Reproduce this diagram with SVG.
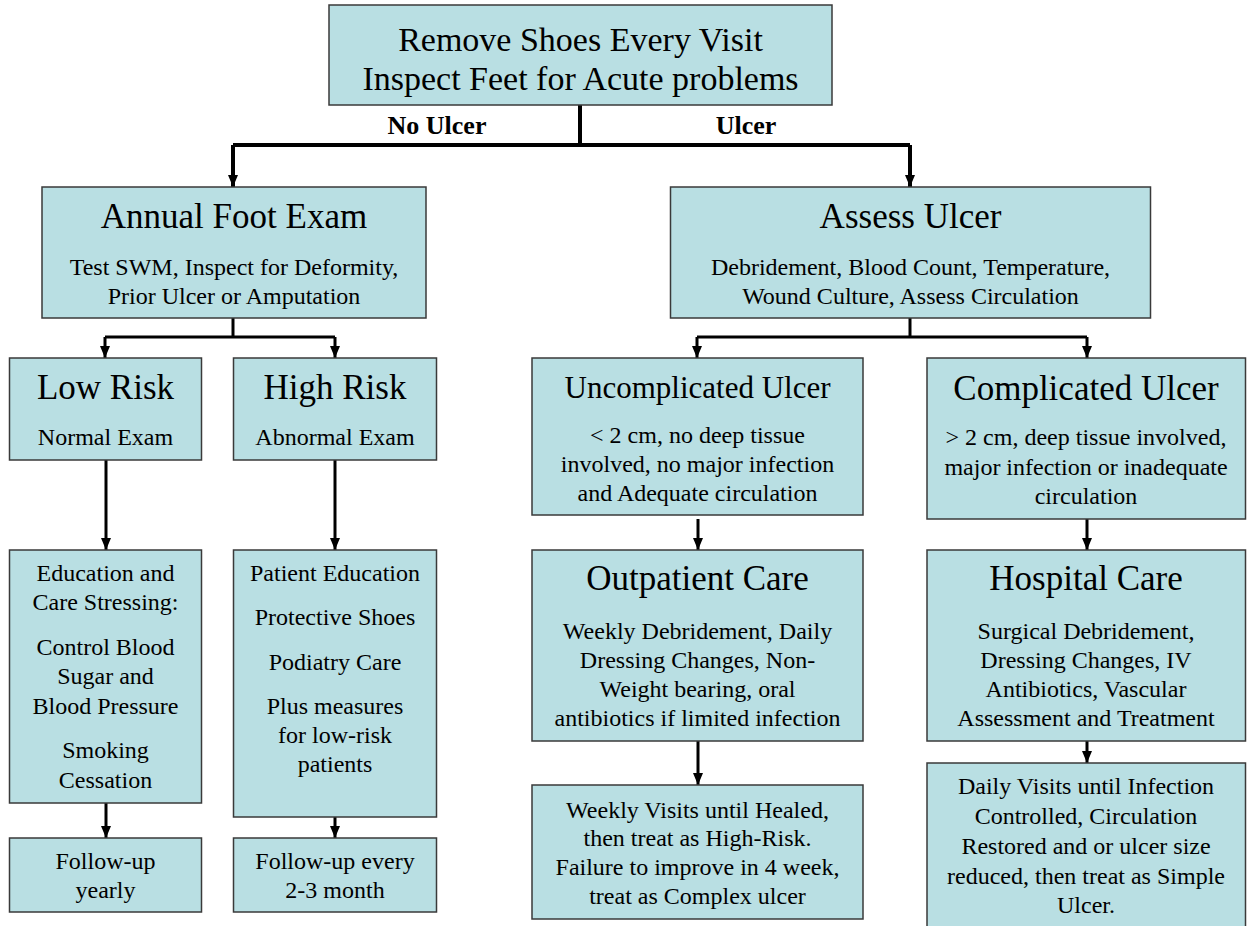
<svg xmlns="http://www.w3.org/2000/svg" width="1247" height="926" viewBox="0 0 1247 926">
<style>
.box{fill:#B9DFE3;stroke:#3a3a3a;stroke-width:1.5}
text{font-family:"Liberation Serif","Times New Roman",serif;fill:#000;text-anchor:middle}
.t{font-size:35px}
.s{font-size:24px}
.lbl{font-size:26px;font-weight:bold}
.c{fill:none;stroke:#000;stroke-width:3}
.ct{fill:none;stroke:#000;stroke-width:4}
</style>
<defs>
<marker id="ah" viewBox="0 0 12 10" refX="12" refY="5" markerWidth="12" markerHeight="10" markerUnits="userSpaceOnUse" orient="auto">
<path d="M0,0 L12,5 L0,10 z" fill="#000"/>
</marker>
</defs>
<rect width="1247" height="926" fill="#fff"/>
<g id="connectors">
<polyline class="ct" points="580,105 580,145"/>
<polyline class="ct" points="233,145 910,145"/>
<polyline class="ct" points="233,145 233,187" marker-end="url(#ah)"/>
<polyline class="ct" points="910,145 910,187" marker-end="url(#ah)"/>
<polyline class="c" points="233,318 233,337"/>
<polyline class="c" points="105,337 335,337"/>
<polyline class="c" points="105,337 105,358" marker-end="url(#ah)"/>
<polyline class="c" points="335,337 335,358" marker-end="url(#ah)"/>
<polyline class="c" points="910,318 910,337"/>
<polyline class="c" points="697,337 1087,337"/>
<polyline class="c" points="697,337 697,358" marker-end="url(#ah)"/>
<polyline class="c" points="1087,337 1087,358" marker-end="url(#ah)"/>
<line class="c" x1="106" y1="460" x2="106" y2="550" marker-end="url(#ah)"/>
<line class="c" x1="335" y1="460" x2="335" y2="550" marker-end="url(#ah)"/>
<line class="c" x1="106" y1="803" x2="106" y2="838" marker-end="url(#ah)"/>
<line class="c" x1="335" y1="817" x2="335" y2="838" marker-end="url(#ah)"/>
<line class="c" x1="698" y1="519" x2="698" y2="550" marker-end="url(#ah)"/>
<line class="c" x1="1087" y1="519" x2="1087" y2="550" marker-end="url(#ah)"/>
<line class="c" x1="698" y1="741" x2="698" y2="785" marker-end="url(#ah)"/>
<line class="c" x1="1087" y1="741" x2="1087" y2="763" marker-end="url(#ah)"/>
<text class="lbl" x="437" y="134">No Ulcer</text>
<text class="lbl" x="746" y="134">Ulcer</text>
</g>
<g id="top">
<rect class="box" x="329" y="5" width="503" height="100"/>
<text x="580.5" y="51" style="font-size:34px">Remove Shoes Every Visit</text>
<text x="580.5" y="90" style="font-size:34px">Inspect Feet for Acute problems</text>
</g>
<g id="annual">
<rect class="box" x="42" y="187" width="384" height="131"/>
<text class="t" x="234" y="228">Annual Foot Exam</text>
<text class="s" x="234" y="275">Test SWM, Inspect for Deformity,</text>
<text class="s" x="234" y="304">Prior Ulcer or Amputation</text>
</g>
<g id="assess">
<rect class="box" x="670.5" y="187" width="480" height="131"/>
<text class="t" x="910.5" y="228">Assess Ulcer</text>
<text class="s" x="910.5" y="275">Debridement, Blood Count, Temperature,</text>
<text class="s" x="910.5" y="304">Wound Culture, Assess Circulation</text>
</g>
<g id="lowrisk">
<rect class="box" x="9.5" y="358" width="192" height="102"/>
<text class="t" x="105.5" y="399">Low Risk</text>
<text class="s" x="105.5" y="445">Normal Exam</text>
</g>
<g id="highrisk">
<rect class="box" x="233.5" y="358" width="203" height="102"/>
<text class="t" x="335" y="399">High Risk</text>
<text class="s" x="335" y="445">Abnormal Exam</text>
</g>
<g id="uncomplicated">
<rect class="box" x="532" y="358" width="331" height="157"/>
<text x="697.5" y="398" style="font-size:31px">Uncomplicated Ulcer</text>
<text class="s" x="697.5" y="443">&lt; 2 cm, no deep tissue</text>
<text class="s" x="697.5" y="472">involved, no major infection</text>
<text class="s" x="697.5" y="501">and Adequate circulation</text>
</g>
<g id="complicated">
<rect class="box" x="927" y="358" width="318.5" height="161"/>
<text class="t" x="1086" y="400">Complicated Ulcer</text>
<text class="s" x="1086" y="445">&gt; 2 cm, deep tissue involved,</text>
<text class="s" x="1086" y="475">major infection or inadequate</text>
<text class="s" x="1086" y="504">circulation</text>
</g>
<g id="education">
<rect class="box" x="9.5" y="550" width="192" height="253"/>
<text class="s" x="105.5" y="581">Education and</text>
<text class="s" x="105.5" y="610">Care Stressing:</text>
<text class="s" x="105.5" y="655">Control Blood</text>
<text class="s" x="105.5" y="684">Sugar and</text>
<text class="s" x="105.5" y="714">Blood Pressure</text>
<text class="s" x="105.5" y="758">Smoking</text>
<text class="s" x="105.5" y="788">Cessation</text>
</g>
<g id="patienteducation">
<rect class="box" x="233.5" y="550" width="203" height="267"/>
<text class="s" x="335" y="581">Patient Education</text>
<text class="s" x="335" y="625">Protective Shoes</text>
<text class="s" x="335" y="670">Podiatry Care</text>
<text class="s" x="335" y="714">Plus measures</text>
<text class="s" x="335" y="743">for low-risk</text>
<text class="s" x="335" y="772">patients</text>
</g>
<g id="outpatient">
<rect class="box" x="532" y="550" width="331" height="191"/>
<text class="t" x="697.5" y="590">Outpatient Care</text>
<text class="s" x="697.5" y="639">Weekly Debridement, Daily</text>
<text class="s" x="697.5" y="668">Dressing Changes, Non-</text>
<text class="s" x="697.5" y="697">Weight bearing, oral</text>
<text class="s" x="697.5" y="726">antibiotics if limited infection</text>
</g>
<g id="hospital">
<rect class="box" x="927" y="550" width="318.5" height="191"/>
<text class="t" x="1086" y="590">Hospital Care</text>
<text class="s" x="1086" y="639">Surgical Debridement,</text>
<text class="s" x="1086" y="668">Dressing Changes, IV</text>
<text class="s" x="1086" y="697">Antibiotics, Vascular</text>
<text class="s" x="1086" y="726">Assessment and Treatment</text>
</g>
<g id="followyearly">
<rect class="box" x="9.5" y="838" width="192" height="74"/>
<text class="s" x="105.5" y="869">Follow-up</text>
<text class="s" x="105.5" y="898">yearly</text>
</g>
<g id="followmonth">
<rect class="box" x="233.5" y="838" width="203" height="74"/>
<text class="s" x="335" y="869">Follow-up every</text>
<text class="s" x="335" y="898">2-3 month</text>
</g>
<g id="weeklyvisits">
<rect class="box" x="532" y="785" width="331" height="134"/>
<text class="s" x="697.5" y="818">Weekly Visits until Healed,</text>
<text class="s" x="697.5" y="846">then treat as High-Risk.</text>
<text class="s" x="697.5" y="875">Failure to improve in 4 week,</text>
<text class="s" x="697.5" y="904">treat as Complex ulcer</text>
</g>
<g id="dailyvisits">
<rect class="box" x="927" y="763" width="318.5" height="180"/>
<text class="s" x="1086" y="794">Daily Visits until Infection</text>
<text class="s" x="1086" y="824">Controlled, Circulation</text>
<text class="s" x="1086" y="854">Restored and or ulcer size</text>
<text class="s" x="1086" y="884">reduced, then treat as Simple</text>
<text class="s" x="1086" y="913">Ulcer.</text>
</g>
</svg>
